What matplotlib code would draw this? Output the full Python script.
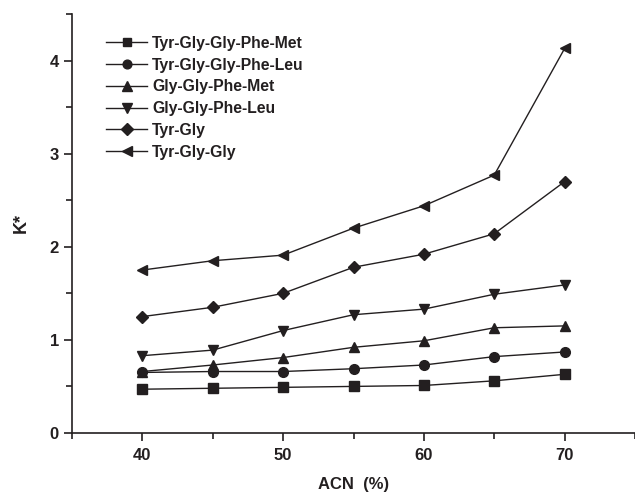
import numpy as np
import matplotlib
matplotlib.use("Agg")
import matplotlib.pyplot as plt
from matplotlib.ticker import MultipleLocator

plt.rcParams['font.family'] = ['Liberation Sans', 'DejaVu Sans']
plt.rcParams['font.weight'] = 'bold'

acn = [40, 45, 50, 55, 60, 65, 70]

peptides = ["Tyr-Gly-Gly-Phe-Met", "Tyr-Gly-Gly-Phe-Leu", "Gly-Gly-Phe-Met",
            "Gly-Gly-Phe-Leu", "Tyr-Gly", "Tyr-Gly-Gly"]

k_ygg_fm = [0.47, 0.48, 0.49, 0.50, 0.51, 0.56, 0.63]
k_ygg_fl = [0.65, 0.66, 0.66, 0.69, 0.73, 0.82, 0.87]
k_gg_fm = [0.66, 0.73, 0.81, 0.92, 0.99, 1.13, 1.15]
k_gg_fl = [0.83, 0.89, 1.10, 1.27, 1.33, 1.49, 1.59]
k_yg = [1.25, 1.35, 1.50, 1.78, 1.92, 2.14, 2.70]
k_ygg = [1.75, 1.85, 1.91, 2.20, 2.44, 2.77, 4.13]

series = [k_ygg_fm, k_ygg_fl, k_gg_fm, k_gg_fl, k_yg, k_ygg]
markers = ['s', 'o', '^', 'v', 'D', '<']
msizes = [6.5, 7, 7.5, 7.5, 6.5, 7.5]

ink = '#231f20'

fig = plt.figure(figsize=(6.35, 4.92), dpi=100)
ax = fig.add_axes([0.1134, 0.12, 0.8866, 0.8515])

for vals, name, m, ms in zip(series, peptides, markers, msizes):
    ax.plot(acn, vals, color=ink, lw=1.0, marker=m, markersize=ms,
            markerfacecolor=ink, markeredgecolor=ink, label=name)

ax.set_xlim(35, 75)
ax.set_ylim(0, 4.5)
ax.xaxis.set_major_locator(MultipleLocator(10))
ax.xaxis.set_minor_locator(MultipleLocator(5))
ax.yaxis.set_major_locator(MultipleLocator(1))
ax.yaxis.set_minor_locator(MultipleLocator(0.5))

for side in ['top', 'right']:
    ax.spines[side].set_visible(False)
for side in ['left', 'bottom']:
    ax.spines[side].set_color(ink)
    ax.spines[side].set_linewidth(1.2)

ax.tick_params(which='both', direction='out', color=ink, width=1.2,
               labelsize=12, labelcolor=ink)
ax.tick_params(which='major', length=6)
ax.tick_params(which='minor', length=4)
ax.tick_params(axis='x', pad=5)

ax.set_xlabel('ACN  (%)', fontsize=12, fontweight='bold', color=ink, labelpad=10)
ax.set_ylabel('K*', fontsize=13, fontweight='bold', color=ink, labelpad=14)

leg = ax.legend(loc='upper left', bbox_to_anchor=(0.05, 0.963),
                frameon=False, fontsize=11.3, handlelength=2.6,
                handletextpad=0.3, labelspacing=0.43, numpoints=1,
                borderaxespad=0, markerscale=0.9)
for t in leg.get_texts():
    t.set_color(ink)
    t.set_fontweight('bold')

fig.savefig('out.png', dpi=100)
